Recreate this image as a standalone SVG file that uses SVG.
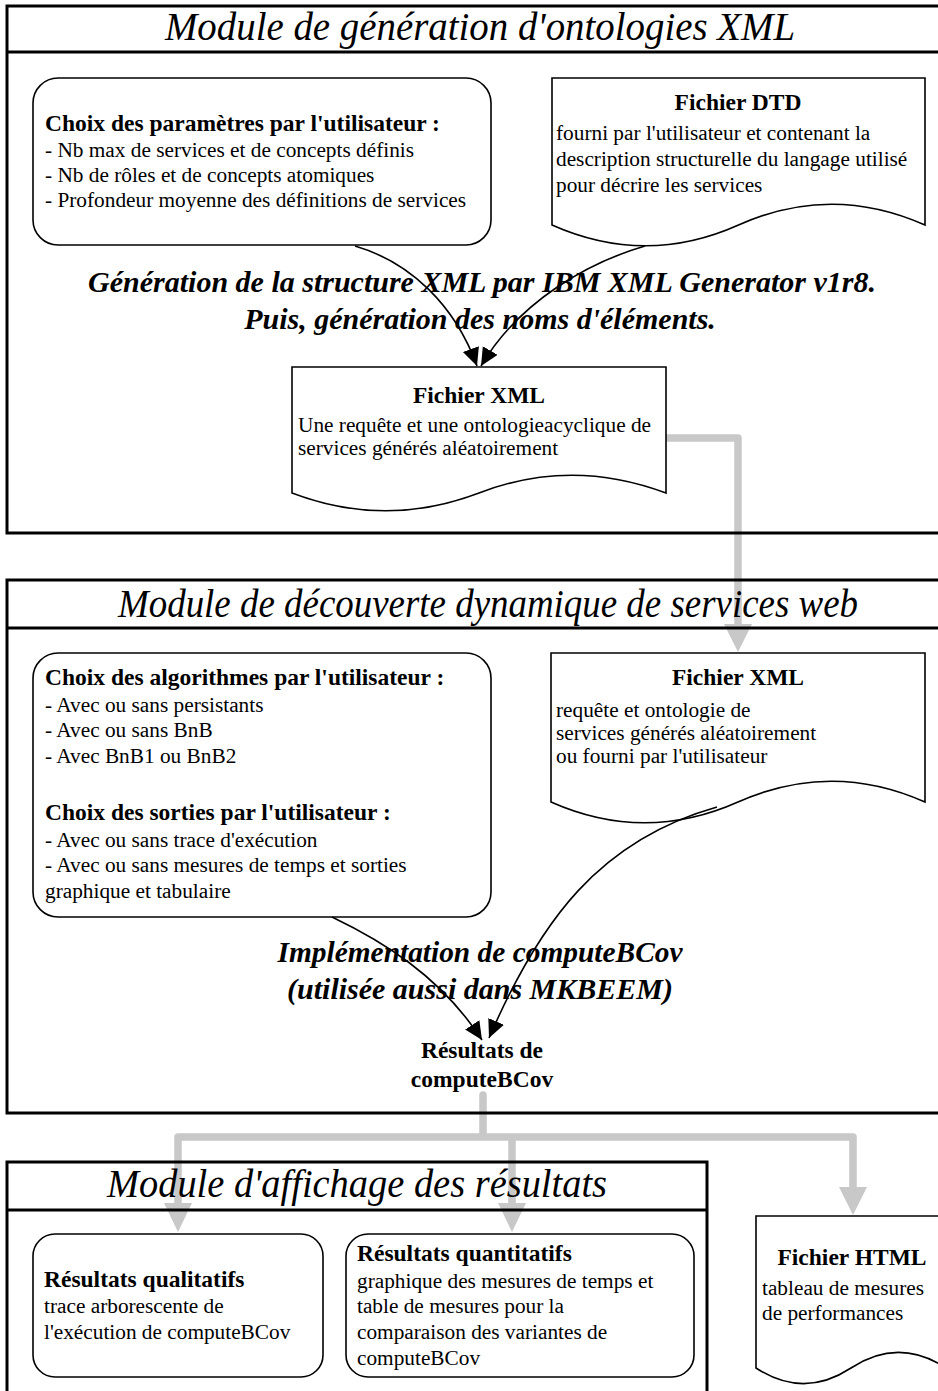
<svg xmlns="http://www.w3.org/2000/svg" width="938" height="1391" viewBox="0 0 938 1391">
  <style>
    text { font-family: "Liberation Serif", "Times New Roman", serif; fill: #000; }
    .frame { fill: none; stroke: #000; stroke-width: 3; }
    .rule { stroke: #000; stroke-width: 3; }
    .shape { fill: #fff; stroke: #000; stroke-width: 1.6; }
    .title { font-size: 39px; font-style: italic; text-anchor: middle; }
    .caption { font-size: 30px; font-style: italic; font-weight: bold; text-anchor: middle; }
    .h { font-size: 23.5px; font-weight: bold; }
    .hc { font-size: 23.5px; font-weight: bold; text-anchor: middle; }
    .t { font-size: 21.3px; }
    .flow { fill: none; stroke: #c8c8c8; stroke-width: 7.5; stroke-linejoin: round; stroke-linecap: round; }
    .flowhead { fill: #c8c8c8; }
    .link { fill: none; stroke: #000; stroke-width: 1.6; marker-end: url(#ah); }
  </style>
  <defs>
    <marker id="ah" markerUnits="userSpaceOnUse" markerWidth="20" markerHeight="18" refX="18" refY="8.5" orient="auto">
      <path d="M0,0 L18,8.5 L0,17 z" fill="#000"/>
    </marker>
  </defs>

  <rect width="938" height="1391" fill="#fff"/>

  <!-- data flow between modules (drawn behind the frames) -->
  <g id="connectors-flow">
    <path class="flow" d="M666,438 H738 V626"/>
    <polygon class="flowhead" points="724,624 752,624 738,652"/>
    <path class="flow" d="M483,1095 V1137 M178,1137 H853 M178,1137 V1205 M512,1137 V1205 M853,1137 V1188"/>
    <polygon class="flowhead" points="164,1203 192,1203 178,1232"/>
    <polygon class="flowhead" points="498,1203 526,1203 512,1232"/>
    <polygon class="flowhead" points="839,1187 867,1187 853,1215"/>
  </g>

  <!-- module frames -->
  <g id="module-generation">
    <rect class="frame" x="7" y="6" width="940" height="527"/>
    <line class="rule" x1="7" y1="52" x2="947" y2="52"/>
    <text class="title" x="480" y="40" textLength="630" lengthAdjust="spacingAndGlyphs">Module de génération d'ontologies XML</text>
    <text class="caption" x="482" y="292">Génération de la structure XML par IBM XML Generator v1r8.</text>
    <text class="caption" x="480" y="329">Puis, génération des noms d'éléments.</text>
  </g>
  <g id="module-decouverte">
    <rect class="frame" x="7" y="580" width="940" height="533"/>
    <line class="rule" x1="7" y1="628" x2="947" y2="628"/>
    <text class="title" x="488" y="617" textLength="740" lengthAdjust="spacingAndGlyphs">Module de découverte dynamique de services web</text>
    <text class="caption" x="480" y="962" textLength="405" lengthAdjust="spacingAndGlyphs">Implémentation de computeBCov</text>
    <text class="caption" x="480" y="999">(utilisée aussi dans MKBEEM)</text>
  </g>
  <g id="module-affichage">
    <rect class="frame" x="7" y="1162" width="700" height="245"/>
    <line class="rule" x1="7" y1="1210" x2="707" y2="1210"/>
    <text class="title" x="357" y="1197" textLength="500" lengthAdjust="spacingAndGlyphs">Module d'affichage des résultats</text>
  </g>

  <!-- nodes -->
  <g id="choix-parametres">
    <rect class="shape" x="33" y="78" width="458" height="167" rx="25"/>
    <text class="h" x="45" y="131">Choix des paramètres par l'utilisateur :</text>
    <text class="t" x="45" y="157">- Nb max de services et de concepts définis</text>
    <text class="t" x="45" y="182">- Nb de rôles et de concepts atomiques</text>
    <text class="t" x="45" y="207">- Profondeur moyenne des définitions de services</text>
  </g>

  <g id="fichier-dtd">
    <path class="shape" d="M552,78 H925 V225 C862,197 801,197 738.5,225 C676,253 615,253 552,225 Z"/>
    <text class="hc" x="738" y="110">Fichier DTD</text>
    <text class="t" x="556" y="140">fourni par l'utilisateur et contenant la</text>
    <text class="t" x="556" y="166">description structurelle du langage utilisé</text>
    <text class="t" x="556" y="192">pour décrire les services</text>
  </g>

  <g id="fichier-xml-genere">
    <path class="shape" d="M292,367 H666 V493 C602,469 541,469 479,493 C416,517 355,517 292,493 Z"/>
    <text class="hc" x="479" y="403">Fichier XML</text>
    <text class="t" x="298" y="432">Une requête et une ontologieacyclique de</text>
    <text class="t" x="298" y="455">services générés aléatoirement</text>
  </g>

  <g id="choix-algorithmes">
    <rect class="shape" x="33" y="653" width="458" height="264" rx="25"/>
    <text class="h" x="45" y="685">Choix des algorithmes par l'utilisateur :</text>
    <text class="t" x="45" y="712">- Avec ou sans persistants</text>
    <text class="t" x="45" y="737">- Avec ou sans BnB</text>
    <text class="t" x="45" y="763">- Avec BnB1 ou BnB2</text>
    <text class="h" x="45" y="820">Choix des sorties par l'utilisateur :</text>
    <text class="t" x="45" y="847">- Avec ou sans trace d'exécution</text>
    <text class="t" x="45" y="872">- Avec ou sans mesures de temps et sorties</text>
    <text class="t" x="45" y="898">graphique et tabulaire</text>
  </g>

  <g id="fichier-xml-entree">
    <path class="shape" d="M551,653 H925 V802 C862,774 801,774 738,802 C675,830 614,830 551,802 Z"/>
    <text class="hc" x="738" y="685">Fichier XML</text>
    <text class="t" x="556" y="717">requête et ontologie de</text>
    <text class="t" x="556" y="740">services générés aléatoirement</text>
    <text class="t" x="556" y="763">ou fourni par l'utilisateur</text>
  </g>

  <g id="resultats-computebcov">
    <text class="hc" x="482" y="1058">Résultats de</text>
    <text class="hc" x="482" y="1087">computeBCov</text>
  </g>

  <g id="resultats-qualitatifs">
    <rect class="shape" x="33" y="1234" width="290" height="143" rx="22"/>
    <text class="h" x="44" y="1287">Résultats qualitatifs</text>
    <text class="t" x="44" y="1313">trace arborescente de</text>
    <text class="t" x="44" y="1339">l'exécution de computeBCov</text>
  </g>

  <g id="resultats-quantitatifs">
    <rect class="shape" x="346" y="1234" width="348" height="143" rx="22"/>
    <text class="h" x="357" y="1261">Résultats quantitatifs</text>
    <text class="t" x="357" y="1288">graphique des mesures de temps et</text>
    <text class="t" x="357" y="1313">table de mesures pour la</text>
    <text class="t" x="357" y="1339">comparaison des variantes de</text>
    <text class="t" x="357" y="1365">computeBCov</text>
  </g>

  <g id="fichier-html">
    <path class="shape" d="M756,1216 H946 V1368 C914,1347 883,1347 851,1368 C819,1389 788,1389 756,1368 Z"/>
    <text class="hc" x="852" y="1265">Fichier HTML</text>
    <text class="t" x="762" y="1295">tableau de mesures</text>
    <text class="t" x="762" y="1320">de performances</text>
  </g>

  <!-- processing links (drawn over captions) -->
  <g id="connectors">
    <path class="link" d="M355,246 C410,262 455,305 477,366"/>
    <path class="link" d="M645,246 C590,262 520,300 481,366"/>
    <path class="link" d="M332,917 C380,940 440,975 482,1040"/>
    <path class="link" d="M717,807 C600,840 540,920 489,1038"/>
  </g>
</svg>
